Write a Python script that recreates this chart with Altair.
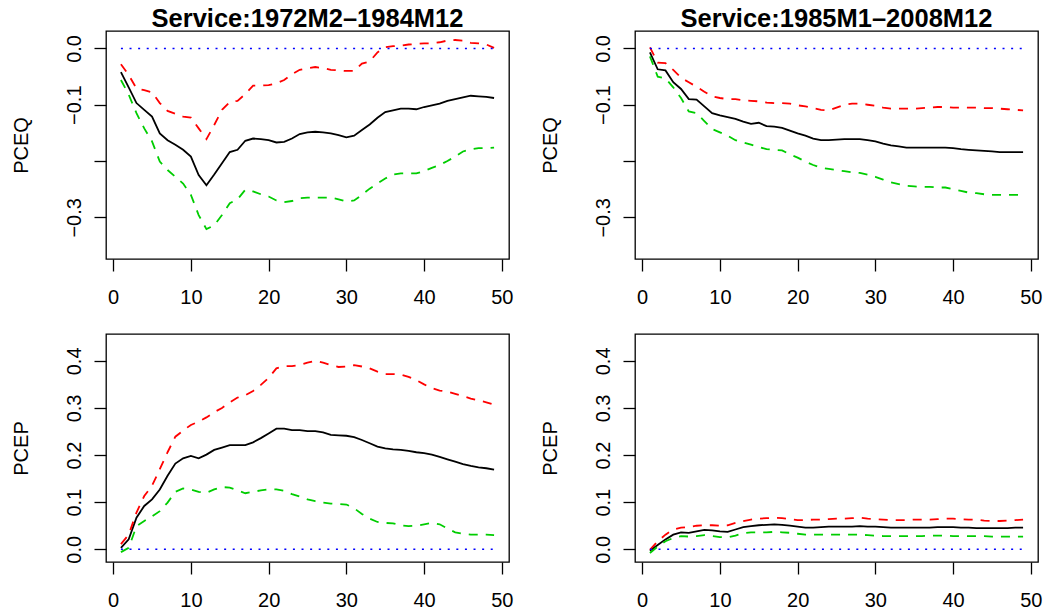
import altair as alt
import pandas as pd

FONT = "Liberation Sans"

horizon = list(range(1, 50))

# PCEQ response, Service 1972M2-1984M12
q1_est = [-0.042, -0.069, -0.097, -0.109, -0.121, -0.151, -0.163, -0.171, -0.180, -0.192,
          -0.225, -0.243, -0.224, -0.204, -0.184, -0.180, -0.164, -0.160, -0.161, -0.163,
          -0.167, -0.166, -0.160, -0.152, -0.149, -0.148, -0.149, -0.151, -0.154, -0.158,
          -0.155, -0.145, -0.135, -0.123, -0.113, -0.110, -0.107, -0.107, -0.108, -0.104,
          -0.101, -0.098, -0.093, -0.090, -0.087, -0.084, -0.085, -0.086, -0.088]
q1_hi = [-0.028, -0.047, -0.071, -0.074, -0.078, -0.097, -0.111, -0.116, -0.121, -0.123,
         -0.142, -0.161, -0.136, -0.109, -0.095, -0.093, -0.081, -0.066, -0.066, -0.065,
         -0.062, -0.056, -0.046, -0.038, -0.035, -0.033, -0.035, -0.038, -0.039, -0.040,
         -0.040, -0.027, -0.023, -0.007, 0.002, 0.004, 0.005, 0.007, 0.008, 0.009,
         0.009, 0.011, 0.014, 0.015, 0.014, 0.010, 0.009, 0.007, 0.001]
q1_lo = [-0.056, -0.082, -0.115, -0.142, -0.165, -0.201, -0.216, -0.228, -0.240, -0.260,
         -0.296, -0.321, -0.314, -0.296, -0.275, -0.268, -0.251, -0.254, -0.259, -0.263,
         -0.270, -0.273, -0.271, -0.266, -0.265, -0.265, -0.265, -0.265, -0.268, -0.272,
         -0.270, -0.260, -0.249, -0.240, -0.231, -0.224, -0.222, -0.222, -0.222, -0.218,
         -0.212, -0.207, -0.200, -0.192, -0.183, -0.179, -0.177, -0.177, -0.176]

# PCEQ response, Service 1985M1-2008M12
q2_est = [-0.007, -0.037, -0.039, -0.060, -0.072, -0.090, -0.091, -0.103, -0.115, -0.119,
          -0.122, -0.125, -0.130, -0.134, -0.132, -0.138, -0.139, -0.141, -0.146, -0.151,
          -0.155, -0.160, -0.163, -0.163, -0.162, -0.161, -0.161, -0.161, -0.163, -0.165,
          -0.169, -0.172, -0.174, -0.176, -0.176, -0.176, -0.176, -0.176, -0.176, -0.177,
          -0.179, -0.180, -0.181, -0.182, -0.183, -0.184, -0.184, -0.184, -0.184]
q2_hi = [0.002, -0.025, -0.026, -0.038, -0.052, -0.060, -0.068, -0.077, -0.085, -0.088,
         -0.090, -0.090, -0.092, -0.093, -0.094, -0.096, -0.097, -0.097, -0.098, -0.101,
         -0.103, -0.106, -0.109, -0.110, -0.105, -0.100, -0.098, -0.098, -0.100, -0.102,
         -0.105, -0.107, -0.107, -0.107, -0.107, -0.106, -0.105, -0.104, -0.104, -0.105,
         -0.105, -0.105, -0.105, -0.106, -0.106, -0.107, -0.108, -0.109, -0.110]
q2_lo = [-0.014, -0.050, -0.053, -0.069, -0.088, -0.112, -0.115, -0.129, -0.143, -0.149,
         -0.155, -0.163, -0.167, -0.171, -0.175, -0.179, -0.180, -0.181, -0.188, -0.194,
         -0.201, -0.207, -0.212, -0.214, -0.216, -0.218, -0.220, -0.221, -0.224, -0.228,
         -0.233, -0.238, -0.241, -0.244, -0.245, -0.246, -0.246, -0.247, -0.247, -0.250,
         -0.253, -0.256, -0.257, -0.259, -0.260, -0.260, -0.260, -0.260, -0.260]

# PCEP response, Service 1972M2-1984M12
p1_est = [0.003, 0.021, 0.067, 0.092, 0.106, 0.127, 0.156, 0.182, 0.193, 0.198,
          0.193, 0.201, 0.211, 0.216, 0.221, 0.221, 0.221, 0.227, 0.236, 0.246,
          0.256, 0.256, 0.253, 0.253, 0.251, 0.251, 0.248, 0.243, 0.242, 0.241,
          0.238, 0.232, 0.225, 0.218, 0.214, 0.212, 0.211, 0.209, 0.206, 0.204,
          0.201, 0.196, 0.191, 0.186, 0.181, 0.177, 0.174, 0.172, 0.169]
p1_hi = [0.011, 0.031, 0.078, 0.113, 0.135, 0.170, 0.206, 0.239, 0.252, 0.264,
         0.271, 0.280, 0.291, 0.300, 0.312, 0.322, 0.327, 0.336, 0.349, 0.364,
         0.384, 0.389, 0.389, 0.391, 0.396, 0.400, 0.396, 0.391, 0.387, 0.388,
         0.391, 0.388, 0.384, 0.377, 0.372, 0.372, 0.371, 0.366, 0.359, 0.350,
         0.342, 0.337, 0.335, 0.330, 0.325, 0.320, 0.316, 0.312, 0.307]
p1_lo = [-0.006, 0.003, 0.049, 0.060, 0.070, 0.081, 0.099, 0.122, 0.129, 0.127,
         0.122, 0.120, 0.127, 0.132, 0.131, 0.125, 0.119, 0.122, 0.125, 0.127,
         0.127, 0.124, 0.117, 0.112, 0.106, 0.102, 0.099, 0.097, 0.096, 0.095,
         0.087, 0.075, 0.065, 0.058, 0.056, 0.055, 0.051, 0.049, 0.050, 0.053,
         0.056, 0.053, 0.044, 0.036, 0.033, 0.031, 0.031, 0.031, 0.030]

# PCEP response, Service 1985M1-2008M12
p2_est = [-0.003, 0.009, 0.021, 0.031, 0.036, 0.035, 0.038, 0.041, 0.040, 0.038,
          0.037, 0.042, 0.047, 0.049, 0.051, 0.052, 0.053, 0.052, 0.050, 0.048,
          0.046, 0.046, 0.047, 0.048, 0.048, 0.048, 0.048, 0.049, 0.048, 0.048,
          0.047, 0.046, 0.046, 0.046, 0.046, 0.046, 0.046, 0.047, 0.047, 0.047,
          0.046, 0.046, 0.045, 0.045, 0.045, 0.045, 0.045, 0.046, 0.046]
p2_hi = [-0.001, 0.017, 0.031, 0.042, 0.046, 0.047, 0.050, 0.051, 0.051, 0.050,
         0.051, 0.056, 0.060, 0.063, 0.065, 0.066, 0.067, 0.066, 0.064, 0.062,
         0.062, 0.063, 0.063, 0.064, 0.065, 0.065, 0.066, 0.067, 0.065, 0.064,
         0.063, 0.062, 0.062, 0.062, 0.063, 0.063, 0.063, 0.064, 0.065, 0.065,
         0.064, 0.063, 0.063, 0.061, 0.060, 0.060, 0.061, 0.062, 0.063]
p2_lo = [-0.008, 0.006, 0.017, 0.024, 0.028, 0.027, 0.028, 0.030, 0.028, 0.026,
         0.025, 0.029, 0.034, 0.036, 0.036, 0.036, 0.037, 0.036, 0.035, 0.033,
         0.031, 0.031, 0.031, 0.031, 0.031, 0.031, 0.031, 0.031, 0.030, 0.029,
         0.028, 0.028, 0.028, 0.028, 0.028, 0.028, 0.029, 0.029, 0.029, 0.028,
         0.028, 0.028, 0.028, 0.028, 0.027, 0.027, 0.027, 0.027, 0.027]

x_ticks = [0, 10, 20, 30, 40, 50]
q_ticks = [-0.3, -0.2, -0.1, 0.0]
p_ticks = [0.0, 0.1, 0.2, 0.3, 0.4]
titles = ["Service:1972M2\u20131984M12", "Service:1985M1\u20132008M12"]

X_DOMAIN = [-0.92, 50.92]
Q_DOMAIN = [-0.374, 0.031]
P_DOMAIN = [-0.027, 0.457]

LINE_W = 1.8
DASH = [9, 8]
DOT = [2, 6.6]


def panel(est, hi, lo, ydomain, yticks, ytitle, title=None, hide_label=None):
    frame = pd.DataFrame({"h": horizon, "est": est, "hi": hi, "lo": lo})
    base = alt.Chart(frame)

    xscale = alt.Scale(domain=X_DOMAIN, nice=False, zero=False)
    yscale = alt.Scale(domain=ydomain, nice=False, zero=False)

    xaxis = alt.Axis(
        values=x_ticks, format="d", title=None, grid=False, domain=False,
        tickSize=12, tickColor="black", tickWidth=1.3,
        labelFont=FONT, labelFontSize=20, labelColor="black",
        labelPadding=16, labelFlush=False, labelOverlap=False,
    )
    label_expr = "datum.label"
    if hide_label is not None:
        label_expr = f"abs(datum.value - ({hide_label})) < 1e-9 ? '' : datum.label"
    yaxis = alt.Axis(
        values=yticks, format=".1f", labelExpr=label_expr, title=ytitle,
        grid=False, domain=False,
        tickSize=12, tickColor="black", tickWidth=1.3,
        labelFont=FONT, labelFontSize=20, labelColor="black",
        labelAngle=270, labelAlign="center", labelBaseline="alphabetic",
        labelPadding=14, labelFlush=False, labelOverlap=False,
        titleFont=FONT, titleFontSize=20, titleFontWeight="normal",
        titleColor="black", titleAngle=270, titleAlign="center",
        titleBaseline="alphabetic", titleX=-79,
    )

    def series(field, color, dash=None):
        kw = dict(color=color, strokeWidth=LINE_W)
        if dash is not None:
            kw["strokeDash"] = dash
        return base.mark_line(**kw).encode(
            x=alt.X("h:Q", scale=xscale, axis=xaxis),
            y=alt.Y(f"{field}:Q", scale=yscale, axis=yaxis),
        )

    zero = base.mark_line(color="#0000ff", strokeWidth=1.6, strokeDash=DOT).encode(
        x=alt.X("h:Q", scale=xscale, axis=xaxis),
        y=alt.Y(datum=0, scale=yscale, axis=yaxis),
    )

    layer = alt.layer(
        series("est", "black"),
        series("hi", "#ff0000", DASH),
        series("lo", "#00cd00", DASH),
        zero,
    ).properties(width=403, height=228)
    if title is not None:
        layer = layer.properties(
            title=alt.TitleParams(
                text=title, font=FONT, fontSize=25.5, fontWeight="bold",
                color="black", anchor="middle", baseline="alphabetic",
                frame="group", offset=3, dy=24,
            )
        )
    return layer


p11 = panel(q1_est, q1_hi, q1_lo, Q_DOMAIN, q_ticks, "PCEQ", titles[0], hide_label=-0.2)
p12 = panel(q2_est, q2_hi, q2_lo, Q_DOMAIN, q_ticks, "PCEQ", titles[1], hide_label=-0.2)
p21 = panel(p1_est, p1_hi, p1_lo, P_DOMAIN, p_ticks, "PCEP")
p22 = panel(p2_est, p2_hi, p2_lo, P_DOMAIN, p_ticks, "PCEP")

chart = (
    alt.concat(p11, p12, p21, p22, columns=2,
               spacing={"row": 75, "column": 126}, bounds="flush")
    .resolve_scale(x="independent", y="independent")
    .properties(
        autosize=alt.AutoSizeParams(type="none"),
        padding={"left": 106, "top": 31, "right": 944, "bottom": 582},
        background="white",
    )
    .configure_view(stroke="black", strokeWidth=1.3)
)

chart.save("out.html", embed_options={"renderer": "svg", "actions": False})
